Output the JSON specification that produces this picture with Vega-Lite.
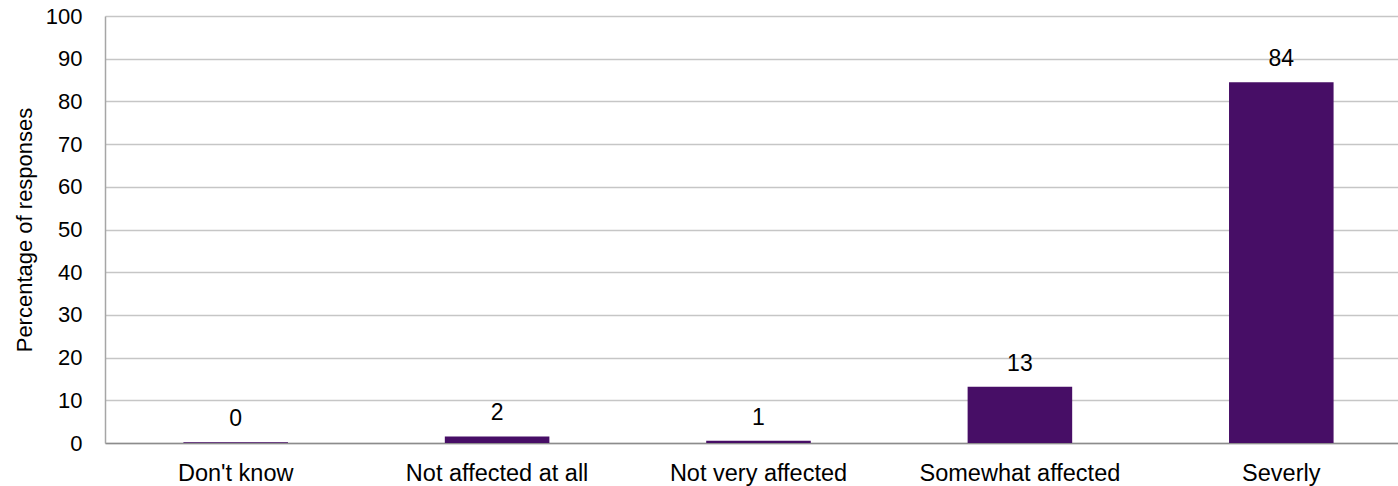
{
  "$schema": "https://vega.github.io/schema/vega-lite/v6.json",
  "autosize": {"type": "none"},
  "padding": {"left": 105, "top": 16, "right": 0, "bottom": 43},
  "width": 1307,
  "height": 427,
  "background": "white",
  "config": {
    "view": {"stroke": null},
    "font": "Liberation Sans",
    "axis": {"labelFont": "Liberation Sans", "titleFont": "Liberation Sans"}
  },
  "data": {
    "values": [
      {"category": "Don't know", "value": 0.15, "label": "0"},
      {"category": "Not affected at all", "value": 1.55, "label": "2"},
      {"category": "Not very affected", "value": 0.55, "label": "1"},
      {"category": "Somewhat affected", "value": 13.2, "label": "13"},
      {"category": "Severly", "value": 84.5, "label": "84"}
    ]
  },
  "encoding": {
    "x": {
      "field": "category",
      "type": "nominal",
      "sort": null,
      "scale": {"paddingInner": 0.6, "paddingOuter": 0.3},
      "axis": {
        "title": null,
        "labelAngle": 0,
        "labelFontSize": 23.5,
        "labelColor": "#000000",
        "labelBaseline": "alphabetic",
        "labelPadding": 37,
        "labelLimit": 0,
        "ticks": false,
        "tickSize": 0,
        "domain": true,
        "domainColor": "#8c8c8c",
        "domainWidth": 1.5,
        "grid": false
      }
    },
    "y": {
      "field": "value",
      "type": "quantitative",
      "scale": {"domain": [0, 100], "nice": false},
      "axis": {
        "title": "Percentage of responses",
        "titleFontSize": 22,
        "titleFontWeight": "normal",
        "titleColor": "#000000",
        "titleAngle": -90,
        "titleX": -81,
        "titleY": 213.5,
        "titleAlign": "center",
        "titleBaseline": "middle",
        "values": [0, 10, 20, 30, 40, 50, 60, 70, 80, 90, 100],
        "labelFontSize": 22,
        "labelColor": "#000000",
        "labelPadding": 23,
        "ticks": false,
        "tickSize": 0,
        "domain": true,
        "domainColor": "#a6a6a6",
        "domainWidth": 1.5,
        "grid": true,
        "gridColor": "#c6c6c6",
        "gridWidth": 1.5
      }
    }
  },
  "layer": [
    {"mark": {"type": "bar", "color": "#470e66"}},
    {
      "mark": {"type": "text", "baseline": "alphabetic", "dy": -16, "fontSize": 23, "color": "#000000", "font": "Liberation Sans"},
      "encoding": {"text": {"field": "label"}}
    }
  ]
}
